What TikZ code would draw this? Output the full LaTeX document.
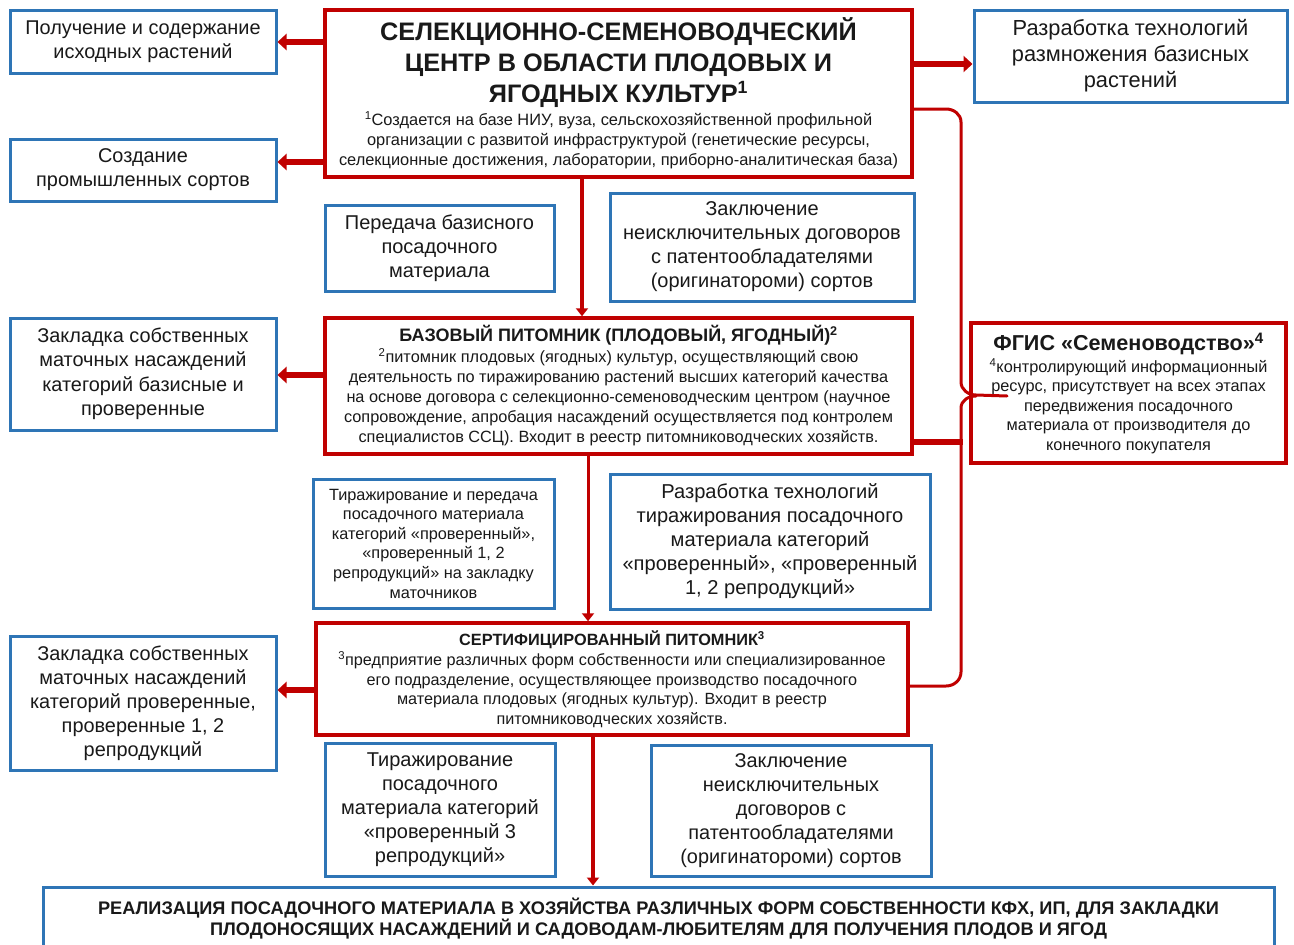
\documentclass[tikz,border=0pt]{standalone}
\usepackage{fontspec}
\setmainfont{Liberation Sans}
\usetikzlibrary{arrows.meta}
\definecolor{bl}{RGB}{46,117,182}
\definecolor{rd}{RGB}{192,0,0}
\definecolor{tx}{RGB}{25,25,25}
\newcommand{\fs}[2]{\fontsize{#1}{#2}\selectfont}
\begin{document}
\begin{tikzpicture}[x=1pt,y=-1pt,
  bbox/.style={draw=bl, line width=3pt, fill=white, align=center, inner sep=0pt, text=tx},
  rbox/.style={draw=rd, line width=3.5pt, fill=white, align=center, inner sep=0pt, text=tx},
  ttl/.style={align=center, inner sep=0pt, text=tx},
  harr/.style={draw=rd, line width=6pt, -{Triangle[length=9pt,width=16pt]}},
  varr/.style={draw=rd, line width=4pt, -{Triangle[length=8pt,width=12pt]}},
  brace/.style={draw=rd, line width=3pt, line cap=round, line join=round}
]
\useasboundingbox (0,0) rectangle (1294,945);
\fill[white] (0,0) rectangle (1294,945);

% left column
\node[bbox, minimum width=266, minimum height=63, font=\fs{19.9}{24}] (a1) at (143,41.5) {Получение и содержание\\исходных растений};
\node[bbox, minimum width=266, minimum height=62, font=\fs{19.9}{24}] (a2) at (143,170) {Создание\\промышленных сортов};
\node[bbox, minimum width=266, minimum height=112, font=\fs{19.9}{24.5}] (l3) at (143,374) {Закладка собственных\\маточных насаждений\\категорий базисные и\\проверенные};
\node[bbox, minimum width=266, minimum height=134, font=\fs{19.9}{24}] (l4) at (143,703) {Закладка собственных\\маточных насаждений\\категорий проверенные,\\проверенные 1, 2\\репродукций};

% top red box
\node[rbox, minimum width=587, minimum height=167] (c1) at (618.5,93.5) {};
\node[ttl, font=\bfseries\fs{25.3}{31}] (c1t) at (618.5,62.5) {СЕЛЕКЦИОННО-СЕМЕНОВОДЧЕСКИЙ\\ЦЕНТР В ОБЛАСТИ ПЛОДОВЫХ И\\ЯГОДНЫХ КУЛЬТУР\textsuperscript{1}};
\node[ttl, font=\fs{16.4}{20}] (c1b) at (618.5,140) {\textsuperscript{1}Создается на базе НИУ, вуза, сельскохозяйственной профильной\\организации с развитой инфраструктурой (генетические ресурсы,\\селекционные достижения, лаборатории, приборно-аналитическая база)};

% right top
\node[bbox, minimum width=313, minimum height=92, font=\fs{21.8}{26}] (r1) at (1130.5,56) {Разработка технологий\\размножения базисных\\растений};

% second row
\node[bbox, minimum width=229, minimum height=86, font=\fs{20}{24}] (p1) at (439.5,248) {Передача базисного\\посадочного\\материала};
\node[bbox, minimum width=304, minimum height=108, font=\fs{20}{24}] (z1) at (762,247) {Заключение\\неисключительных договоров\\с патентообладателями\\(оригинатороми) сортов};

% base box
\node[rbox, minimum width=587, minimum height=136] (c2) at (618.5,386) {};
\node[ttl, font=\bfseries\fs{18}{20}] (c2t) at (618.5,335) {БАЗОВЫЙ ПИТОМНИК (ПЛОДОВЫЙ, ЯГОДНЫЙ)\textsuperscript{2}};
\node[ttl, font=\fs{16.3}{20}] (c2b) at (618.5,397) {\textsuperscript{2}питомник плодовых (ягодных) культур, осуществляющий свою\\деятельность по тиражированию растений высших категорий качества\\на основе договора с селекционно-семеноводческим центром (научное\\сопровождение, апробация насаждений осуществляется под контролем\\специалистов ССЦ). Входит в реестр питомниководческих хозяйств.};

% FGIS
\node[rbox, minimum width=315, minimum height=140] (fg) at (1128.5,393) {};
\node[ttl, font=\bfseries\fs{21.6}{24}] (fgt) at (1128.5,344) {ФГИС «Семеноводство»\textsuperscript{4}};
\node[ttl, font=\fs{16.3}{19.5}] (fgb) at (1128.5,406) {\textsuperscript{4}контролирующий информационный\\ресурс, присутствует на всех этапах\\передвижения посадочного\\материала от производителя до\\конечного покупателя};

% third row
\node[bbox, minimum width=241, minimum height=129, font=\fs{16.3}{19.6}] (t1) at (433.5,543.5) {Тиражирование и передача\\посадочного материала\\категорий «проверенный»,\\«проверенный 1, 2\\репродукций» на закладку\\маточников};
\node[bbox, minimum width=320, minimum height=135, font=\fs{20.1}{24}] (rz2) at (770,541.5) {Разработка технологий\\тиражирования посадочного\\материала категорий\\«проверенный», «проверенный\\1, 2 репродукций»};

% certified box
\node[rbox, minimum width=592, minimum height=112] (c3) at (612,679) {};
\node[ttl, font=\bfseries\fs{16.3}{19}] (c3t) at (612,640) {СЕРТИФИЦИРОВАННЫЙ ПИТОМНИК\textsuperscript{3}};
\node[ttl, font=\fs{16.2}{19.7}] (c3b) at (612,689.5) {\textsuperscript{3}предприятие различных форм собственности или специализированное\\его подразделение, осуществляющее производство посадочного\\материала плодовых (ягодных культур). Входит в реестр\\питомниководческих хозяйств.};

% fourth row
\node[bbox, minimum width=230, minimum height=133, font=\fs{20}{24}] (t2) at (440,809.5) {Тиражирование\\посадочного\\материала категорий\\«проверенный 3\\репродукций»};
\node[bbox, minimum width=280, minimum height=131, font=\fs{19.9}{24}] (z2) at (791,810.5) {Заключение\\неисключительных\\договоров с\\патентообладателями\\(оригинатороми) сортов};

% bottom
\node[bbox, minimum width=1231, minimum height=64, font=\bfseries\fs{18.2}{21}] (bt) at (658.5,919) {РЕАЛИЗАЦИЯ ПОСАДОЧНОГО МАТЕРИАЛА В ХОЗЯЙСТВА РАЗЛИЧНЫХ ФОРМ СОБСТВЕННОСТИ КФХ, ИП, ДЛЯ ЗАКЛАДКИ\\ПЛОДОНОСЯЩИХ НАСАЖДЕНИЙ И САДОВОДАМ-ЛЮБИТЕЛЯМ ДЛЯ ПОЛУЧЕНИЯ ПЛОДОВ И ЯГОД};

% arrows
\draw[harr] (c1.west |- 0,42) -- (a1.east |- 0,42);
\draw[harr] (c1.west |- 0,162) -- (a2.east |- 0,162);
\draw[harr] (c1.east |- 0,64) -- (r1.west |- 0,64);
\draw[harr] (c2.west |- 0,375) -- (l3.east |- 0,375);
\draw[harr] (c3.west |- 0,690) -- (l4.east |- 0,690);
\draw[varr] (c1.south -| 582,0) -- (c2.north -| 582,0);
\draw[varr, line width=3pt] (c2.south -| 588,0) -- (c3.north -| 588,0);
\draw[varr] (c3.south -| 593,0) -- (bt.north -| 593,0);

% brace to FGIS
\coordinate (bt1) at (c1.east |- 0,109);
\coordinate (bt2) at (c3.east |- 0,686);
\coordinate (tip) at (1007,396);
\draw[brace] (bt1) -- (946,109) to[out=0,in=90] (961,122) -- (961,382) to[out=-90,in=180] (976,395) -- (tip);
\draw[brace] (976,396) to[out=180,in=90] (961,408) -- (961,672) to[out=-90,in=0] (946,686) -- (bt2);
\draw[draw=rd, line width=6pt] (c2.east |- 0,442) -- (963,442);
\end{tikzpicture}
\end{document}
